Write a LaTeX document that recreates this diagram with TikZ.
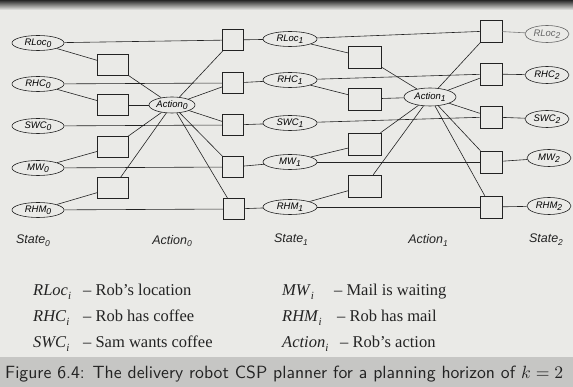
\documentclass[tikz,border=0pt]{standalone}
\usepackage{fontspec}
\usepackage{graphicx}
\usetikzlibrary{shapes.geometric}
\newfontfamily\diagfont{Liberation Sans}
\newfontfamily\legfont{Liberation Serif}
\definecolor{paper}{RGB}{234,234,231}
\definecolor{band}{RGB}{198,198,196}
\definecolor{ink}{RGB}{35,35,35}
\newcommand\dlab[2]{#1\raisebox{-0.45ex}{\fontsize{8.5}{8.5}\selectfont #2}}
\newcommand\lvar[2]{\textit{#1}\raisebox{-0.4ex}{\fontsize{11}{11}\selectfont\itshape #2}}
\tikzset{
  var/.style={ellipse, draw=ink, line width=0.6pt, inner sep=0pt,
    minimum width=52pt, minimum height=15pt,
    font=\diagfont\itshape\fontsize{9.5}{10}\selectfont},
  con/.style={rectangle, draw=ink, line width=0.6pt, inner sep=0pt,
    minimum width=31pt, minimum height=21pt},
  con2/.style={con, minimum width=21pt, minimum height=21pt},
  edge/.style={draw=ink, line width=0.6pt},
  lab/.style={font=\diagfont\itshape\fontsize{12.5}{13}\selectfont, text=ink},
  leg/.style={anchor=base west, inner sep=0pt, text=ink,
    font=\legfont\fontsize{16.5}{18}\selectfont},
}
\begin{document}
\begin{tikzpicture}[x=1pt,y=-1pt]
\useasboundingbox (0,0) rectangle (573,387);
\fill[paper] (0,0) rectangle (573,387);
\shade[top color=black!85, bottom color=paper] (0,0) rectangle (573,10);
\fill[band] (0,357) rectangle (573,387);

% State 0
\node[var] (rloc0) at (38,43) {\dlab{RLoc}{0}};
\node[var] (rhc0) at (38,84) {\dlab{RHC}{0}};
\node[var] (swc0) at (38,126) {\dlab{SWC}{0}};
\node[var] (mw0) at (38,168) {\dlab{MW}{0}};
\node[var] (rhm0) at (38,210) {\dlab{RHM}{0}};
% constraints column 1
\node[con] (a1) at (113,65) {};
\node[con] (a2) at (113,105) {};
\node[con] (a3) at (113,147) {};
\node[con] (a4) at (113,188) {};
% Action 0
\node[var, minimum width=46pt, minimum height=16pt] (act0) at (172,105) {\dlab{Action}{0}};
% constraints column 2
\node[con2] (b1) at (233,40) {};
\node[con2] (b2) at (233,83) {};
\node[con2] (b3) at (233,125) {};
\node[con2] (b4) at (233,167) {};
\node[con2] (b5) at (234,209) {};
% State 1
\node[var, minimum width=54pt] (rloc1) at (290,39) {\dlab{RLoc}{1}};
\node[var, minimum width=54pt] (rhc1) at (290,80) {\dlab{RHC}{1}};
\node[var, minimum width=54pt] (swc1) at (290,123) {\dlab{SWC}{1}};
\node[var, minimum width=54pt] (mw1) at (290,162) {\dlab{MW}{1}};
\node[var, minimum width=54pt] (rhm1) at (290,207) {\dlab{RHM}{1}};
% constraints column 3
\node[con, minimum width=33pt, minimum height=22pt] (c1) at (365,57) {};
\node[con, minimum width=33pt, minimum height=22pt] (c2) at (365,99) {};
\node[con, minimum width=33pt, minimum height=22pt] (c3) at (365,144) {};
\node[con, minimum width=33pt, minimum height=22pt] (c4) at (365,186) {};
% Action 1
\node[var, minimum width=52pt, minimum height=18pt] (act1) at (430,97) {\dlab{Action}{1}};
% constraints column 4
\node[con2, minimum width=22pt, minimum height=22pt] (d1) at (491,31) {};
\node[con2, minimum width=22pt, minimum height=22pt] (d2) at (491,74) {};
\node[con2, minimum width=22pt, minimum height=22pt] (d3) at (491,117) {};
\node[con2, minimum width=22pt, minimum height=22pt] (d4) at (491,162) {};
\node[con2, minimum width=22pt, minimum height=22pt] (d5) at (491,207) {};
% State 2
\node[var, minimum width=44pt, minimum height=17pt, draw=ink!70, text=ink!70] (rloc2) at (547,34) {\dlab{RLoc}{2}};
\node[var, minimum width=44pt, minimum height=17pt] (rhc2) at (547,75) {\dlab{RHC}{2}};
\node[var, minimum width=44pt, minimum height=17pt] (swc2) at (547,119) {\dlab{SWC}{2}};
\node[var, minimum width=44pt, minimum height=17pt] (mw2) at (549,158) {\dlab{MW}{2}};
\node[var, minimum width=44pt, minimum height=17pt] (rhm2) at (549,206) {\dlab{RHM}{2}};

% edges stage 0
\draw[edge] (rloc0) -- (a1);
\draw[edge] (rloc0) -- (b1);
\draw[edge] (rhc0) -- (a2);
\draw[edge] (rhc0) -- (b2);
\draw[edge] (swc0) -- (b3);
\draw[edge] (mw0) -- (a3);
\draw[edge] (mw0) -- (b4);
\draw[edge] (rhm0) -- (a4);
\draw[edge] (rhm0) -- (b5);
\draw[edge] (a1) -- (act0);
\draw[edge] (a2) -- (act0);
\draw[edge] (a3) -- (act0);
\draw[edge] (a4) -- (act0);
\foreach \b in {b1,b2,b3,b4,b5} \draw[edge] (act0) -- (\b);
\draw[edge] (b1) -- (rloc1);
\draw[edge] (b2) -- (rhc1);
\draw[edge] (b3) -- (swc1);
\draw[edge] (b4) -- (mw1);
\draw[edge] (b5) -- (rhm1);
% edges stage 1
\draw[edge] (rloc1) -- (c1);
\draw[edge] (rloc1) -- (d1);
\draw[edge] (rhc1) -- (c2);
\draw[edge] (rhc1) -- (d2);
\draw[edge] (swc1) -- (d3);
\draw[edge] (mw1) -- (c3);
\draw[edge] (mw1) -- (d4);
\draw[edge] (rhm1) -- (c4);
\draw[edge] (rhm1) -- (d5);
\draw[edge] (c1) -- (act1);
\draw[edge] (c2) -- (act1);
\draw[edge] (c3) -- (act1);
\draw[edge] (c4) -- (act1);
\foreach \d in {d1,d2,d3,d4,d5} \draw[edge] (act1) -- (\d);
\draw[edge, draw=ink!60] (d1) -- (rloc2);
\draw[edge] (d2) -- (rhc2);
\draw[edge] (d3) -- (swc2);
\draw[edge] (d4) -- (mw2);
\draw[edge] (d5) -- (rhm2);

% column labels
\node[lab] (ls0) at (33,241) {\dlab{State}{0}};
\node[lab] (la0) at (172,241) {\dlab{Action}{0}};
\node[lab] (ls1) at (291,240) {\dlab{State}{1}};
\node[lab] (la1) at (428,240) {\dlab{Action}{1}};
\node[lab] (ls2) at (546,240) {\dlab{State}{2}};

% legend
\node[leg] (g1) at (33,296) {\makebox[50pt][l]{\lvar{RLoc}{i}}– Rob’s location};
\node[leg] (g2) at (33,322) {\makebox[50pt][l]{\lvar{RHC}{i}}– Rob has coffee};
\node[leg] (g3) at (33,348) {\makebox[50pt][l]{\lvar{SWC}{i}}– Sam wants coffee};
\node[leg] (g4) at (282,296) {\makebox[52pt][l]{\lvar{MW}{i}}– Mail is waiting};
\node[leg] (g5) at (282,322) {\makebox[55pt][l]{\lvar{RHM}{i}}– Rob has mail};
\node[leg] (g6) at (282,348) {\makebox[58pt][l]{\lvar{Action}{i}}– Rob’s action};

% caption
\node[anchor=base west, inner sep=0pt, text=ink] (cap) at (5,378)
  {\resizebox{558pt}{!}{\sffamily Figure 6.4: The delivery robot CSP planner for a planning horizon of $k=2$}};
\end{tikzpicture}
\end{document}
